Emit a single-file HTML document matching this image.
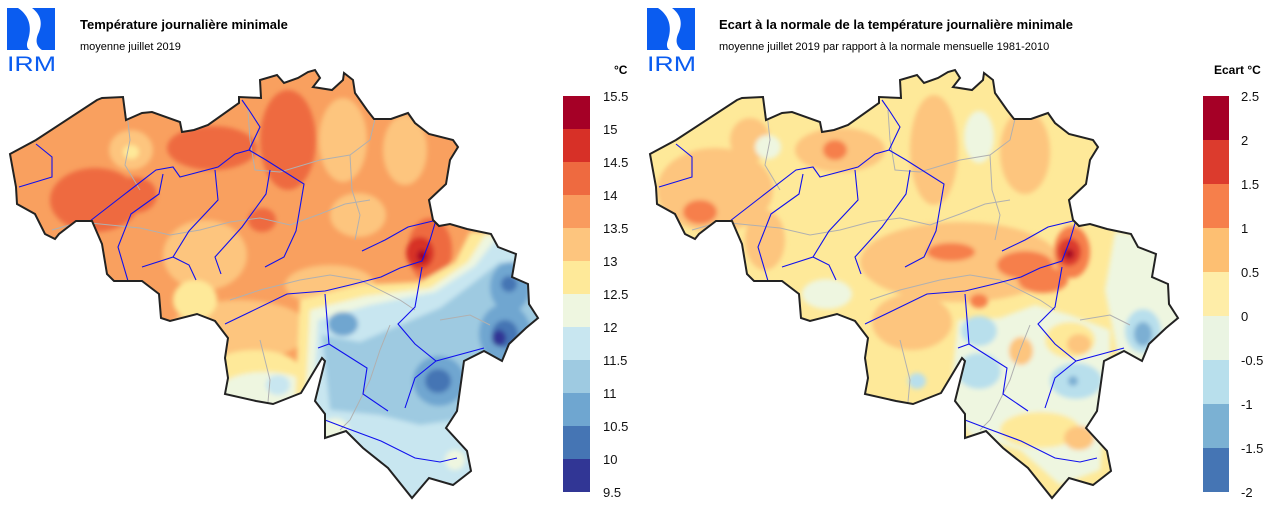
<!DOCTYPE html>
<html><head><meta charset="utf-8"><style>
html,body{margin:0;padding:0;background:#fff;}
svg{display:block;font-family:"Liberation Sans",sans-serif;}
</style></head><body>
<svg width="1280" height="507" viewBox="0 0 1280 507" xmlns="http://www.w3.org/2000/svg">
<defs>
<path id="be" d="M10,154 L36,140 L97,100 L102,98 L123,97 L126,120 L142,113 L152,112 L180,122 L182,132 L194,130 L208,125 L239,103 L239,97 L261,98 L260,80 L277,75 L284,83 L298,78 L308,72 L315,70 L320,78 L313,87 L332,90 L343,80 L344,73 L353,80 L355,93 L367,110 L374,119 L391,119 L408,113 L415,123 L429,134 L453,140 L458,147 L450,160 L446,184 L429,200 L433,220 L439,226 L450,224 L467,229 L491,234 L498,247 L516,254 L512,277 L528,284 L529,304 L538,318 L526,328 L509,344 L502,361 L484,351 L464,361 L457,411 L446,428 L467,451 L471,471 L453,485 L429,478 L412,498 L388,468 L363,448 L346,431 L325,438 L325,414 L315,401 L325,361 L322,358 L304,388 L301,393 L273,404 L256,401 L225,394 L228,378 L225,358 L228,338 L215,321 L197,314 L170,321 L161,318 L159,294 L142,281 L114,281 L107,274 L102,244 L92,221 L76,221 L59,234 L55,239 L45,234 L35,214 L17,204 L16,187 Z"/>
<clipPath id="cp"><use href="#be"/></clipPath>
<filter id="bl" x="-10%" y="-10%" width="120%" height="120%"><feGaussianBlur stdDeviation="2.5"/></filter>
<g id="rivers" fill="none" stroke="#1010ee" stroke-width="1.1">
<polyline points="19,187 52,177 52,157 36,144"/>
<polyline points="90,221 121,197 156,170 173,167 180,177 218,167 235,154 249,150 260,127 249,110 242,100"/>
<polyline points="128,281 118,247 131,214 159,194 163,174"/>
<polyline points="142,267 173,257 189,231 218,200 215,170"/>
<polyline points="173,257 189,265 196,280"/>
<polyline points="221,274 215,257 242,227 266,194 270,170"/>
<polyline points="265,267 284,257 296,231 304,184 266,160 249,150"/>
<polyline points="225,324 250,312 287,294 325,291 350,285 381,277 400,268 422,261 430,240 436,220"/>
<polyline points="362,251 385,240 408,227 433,221"/>
<polyline points="422,267 415,307 398,324 415,344 436,361 484,348"/>
<polyline points="436,361 415,378 405,408"/>
<polyline points="325,294 329,344 367,368 363,394 388,411"/>
<polyline points="329,344 318,348"/>
<polyline points="325,420 346,428 381,441 415,458 440,462 457,458"/>
</g>
<g id="gray" fill="none" stroke="#b0b0b0" stroke-width="1">
<polyline points="52,230 80,222 110,225 140,228 170,235 200,230 230,222 260,218 290,225 320,214 345,204 370,200"/>
<polyline points="125,95 130,140 125,165 140,190"/>
<polyline points="248,110 250,140 255,170 280,172 320,160 350,155 370,140 375,119"/>
<polyline points="350,155 352,190 360,215 355,240"/>
<polyline points="230,300 260,290 300,280 330,275 360,280 400,300 415,310"/>
<polyline points="260,340 270,380 268,402"/>
<polyline points="390,325 380,350 370,380 350,420 340,430"/>
<polyline points="440,320 470,315 490,325"/>
</g>
<g id="logo">
<rect x="7" y="8" width="48" height="42" fill="#0a5cf0"/>
<path d="M18,8 C30,16 32,28 28,40 C26,45 27,49 30,50 L42,50 C36,46 35,40 39,32 C43,22 40,14 32,8 Z" fill="#fff"/>
<text x="7" y="71" font-size="21" fill="#0a5cf0" textLength="49" lengthAdjust="spacingAndGlyphs">IRM</text>
</g>
</defs>

<use href="#logo"/>
<text x="80" y="29" font-size="13" font-weight="bold">Température journalière minimale</text>
<text x="80" y="50" font-size="11">moyenne juillet 2019</text>
<g clip-path="url(#cp)">
<rect x="0" y="60" width="560" height="445" fill="#f9a05f"/>
<g filter="url(#bl)">
<ellipse cx="288" cy="140" rx="28" ry="50" fill="#ee6a40"/>
<ellipse cx="212" cy="148" rx="45" ry="22" fill="#ee6a40"/>
<ellipse cx="95" cy="200" rx="45" ry="32" fill="#ee6a40"/>
<ellipse cx="135" cy="195" rx="22" ry="18" fill="#ee6a40"/>
<ellipse cx="262" cy="220" rx="14" ry="12" fill="#ee6a40"/>
<ellipse cx="430" cy="250" rx="22" ry="32" fill="#ee6a40"/>
<ellipse cx="131" cy="150" rx="22" ry="20" fill="#fdc57e"/>
<ellipse cx="131" cy="152" rx="8" ry="7" fill="#fee999"/>
<ellipse cx="343" cy="140" rx="24" ry="42" fill="#fdc57e"/>
<ellipse cx="405" cy="150" rx="22" ry="35" fill="#fdc57e"/>
<ellipse cx="358" cy="215" rx="28" ry="22" fill="#fdc57e"/>
<ellipse cx="205" cy="255" rx="42" ry="35" fill="#fdc57e"/>
<ellipse cx="240" cy="330" rx="70" ry="30" fill="#fdc57e"/>
<ellipse cx="330" cy="285" rx="45" ry="20" fill="#fdc57e"/>
<ellipse cx="195" cy="300" rx="22" ry="20" fill="#fee999"/>
<ellipse cx="255" cy="370" rx="45" ry="20" fill="#fee999"/>
<ellipse cx="265" cy="390" rx="45" ry="18" fill="#eef6e0"/>
<ellipse cx="278" cy="385" rx="12" ry="10" fill="#c8e6f0"/>
<ellipse cx="420" cy="253" rx="14" ry="16" fill="#d73027"/>
<ellipse cx="422" cy="256" rx="5" ry="6" fill="#a50026"/>
<polygon points="300,300 360,285 420,282 455,262 470,232 545,232 545,505 290,505" fill="#fee999"/>
<polygon points="310,310 365,296 430,288 468,262 485,235 545,238 545,505 300,505" fill="#eef6e0"/>
<polygon points="318,320 370,305 435,292 475,266 495,240 545,245 545,505 330,505 312,420" fill="#c8e6f0"/>
<polygon points="322,335 360,342 400,325 440,308 472,284 500,262 545,272 545,370 490,410 455,420 420,425 380,415 330,410" fill="#9ecae1"/>
<ellipse cx="343" cy="324" rx="15" ry="12" fill="#6fa6d0"/>
<ellipse cx="439" cy="381" rx="26" ry="25" fill="#6fa6d0"/>
<ellipse cx="505" cy="334" rx="26" ry="30" fill="#6fa6d0"/>
<ellipse cx="510" cy="287" rx="20" ry="25" fill="#6fa6d0"/>
<ellipse cx="438" cy="381" rx="13" ry="12" fill="#4575b4"/>
<ellipse cx="505" cy="334" rx="13" ry="14" fill="#4575b4"/>
<ellipse cx="509" cy="284" rx="8" ry="8" fill="#4575b4"/>
<ellipse cx="499" cy="338" rx="7" ry="8" fill="#313695"/>
<ellipse cx="455" cy="460" rx="10" ry="10" fill="#eef6e0"/>
<ellipse cx="335" cy="430" rx="14" ry="12" fill="#eef6e0"/>
</g>
<use href="#gray"/>
<use href="#rivers"/>
</g>
<use href="#be" fill="none" stroke="#222" stroke-width="2"/>

<text x="614" y="74" font-size="12" font-weight="bold">°C</text>
<rect x="563" y="96" width="27" height="33" fill="#a50026"/>
<rect x="563" y="129" width="27" height="33" fill="#d73027"/>
<rect x="563" y="162" width="27" height="33" fill="#ee6a40"/>
<rect x="563" y="195" width="27" height="33" fill="#f99b5e"/>
<rect x="563" y="228" width="27" height="33" fill="#fdc57e"/>
<rect x="563" y="261" width="27" height="33" fill="#fee999"/>
<rect x="563" y="294" width="27" height="33" fill="#eef6e0"/>
<rect x="563" y="327" width="27" height="33" fill="#c8e6f0"/>
<rect x="563" y="360" width="27" height="33" fill="#9ecae1"/>
<rect x="563" y="393" width="27" height="33" fill="#6fa6d0"/>
<rect x="563" y="426" width="27" height="33" fill="#4575b4"/>
<rect x="563" y="459" width="27" height="33" fill="#313695"/>
<g font-size="13" fill="#111">
<text x="603" y="101">15.5</text><text x="603" y="134">15</text><text x="603" y="167">14.5</text>
<text x="603" y="200">14</text><text x="603" y="233">13.5</text><text x="603" y="266">13</text>
<text x="603" y="299">12.5</text><text x="603" y="332">12</text><text x="603" y="365">11.5</text>
<text x="603" y="398">11</text><text x="603" y="431">10.5</text><text x="603" y="464">10</text>
<text x="603" y="497">9.5</text>
</g>

<g transform="translate(640,0)">
<use href="#logo"/>
<text x="79" y="29" font-size="13" font-weight="bold">Ecart à la normale de la température journalière minimale</text>
<text x="79" y="50" font-size="11">moyenne juillet 2019 par rapport à la normale mensuelle 1981-2010</text>
<g clip-path="url(#cp)">
<rect x="0" y="60" width="560" height="445" fill="#fee999"/>
<g filter="url(#bl)">
<ellipse cx="75" cy="190" rx="58" ry="42" fill="#fdc57e"/>
<ellipse cx="110" cy="140" rx="20" ry="22" fill="#fdc57e"/>
<ellipse cx="200" cy="150" rx="45" ry="22" fill="#fdc57e"/>
<ellipse cx="294" cy="150" rx="24" ry="55" fill="#fdc57e"/>
<ellipse cx="385" cy="152" rx="25" ry="42" fill="#fdc57e"/>
<ellipse cx="320" cy="262" rx="100" ry="40" fill="#fdc57e"/>
<ellipse cx="272" cy="322" rx="40" ry="28" fill="#fdc57e"/>
<ellipse cx="125" cy="240" rx="20" ry="30" fill="#fdc57e"/>
<ellipse cx="195" cy="150" rx="12" ry="10" fill="#f67f4b"/>
<ellipse cx="60" cy="212" rx="17" ry="12" fill="#f67f4b"/>
<ellipse cx="311" cy="252" rx="24" ry="9" fill="#f67f4b"/>
<ellipse cx="385" cy="265" rx="28" ry="14" fill="#f67f4b"/>
<ellipse cx="403" cy="280" rx="25" ry="13" fill="#f67f4b"/>
<ellipse cx="339" cy="301" rx="9" ry="7" fill="#f67f4b"/>
<ellipse cx="432" cy="252" rx="18" ry="26" fill="#f67f4b"/>
<ellipse cx="429" cy="252" rx="12" ry="14" fill="#dc3b2d"/>
<ellipse cx="429" cy="254" rx="5" ry="5" fill="#a50026"/>
<ellipse cx="339" cy="137" rx="15" ry="26" fill="#eef6e0"/>
<ellipse cx="128" cy="147" rx="13" ry="12" fill="#eef6e0"/>
<ellipse cx="187" cy="294" rx="25" ry="15" fill="#eef6e0"/>
<polygon points="475,232 545,240 545,380 480,365 465,290" fill="#eef6e0"/>
<polygon points="318,320 360,318 395,305 430,315 470,330 470,360 460,470 420,485 380,450 330,435 310,400" fill="#eef6e0"/>
<ellipse cx="430" cy="340" rx="25" ry="18" fill="#fee999"/>
<ellipse cx="400" cy="430" rx="40" ry="18" fill="#fee999"/>
<ellipse cx="439" cy="344" rx="12" ry="10" fill="#fdc57e"/>
<ellipse cx="381" cy="351" rx="12" ry="14" fill="#fdc57e"/>
<ellipse cx="439" cy="438" rx="15" ry="12" fill="#fdc57e"/>
<ellipse cx="339" cy="331" rx="18" ry="15" fill="#b8dfec"/>
<ellipse cx="339" cy="371" rx="22" ry="18" fill="#b8dfec"/>
<ellipse cx="436" cy="381" rx="26" ry="18" fill="#b8dfec"/>
<ellipse cx="503" cy="331" rx="18" ry="22" fill="#b8dfec"/>
<ellipse cx="277" cy="381" rx="9" ry="8" fill="#b8dfec"/>
<ellipse cx="503" cy="334" rx="9" ry="12" fill="#7bafd3"/>
<ellipse cx="433" cy="381" rx="5" ry="5" fill="#7bafd3"/>
</g>
<use href="#gray"/>
<use href="#rivers"/>
</g>
<use href="#be" fill="none" stroke="#222" stroke-width="2"/>
</g>

<text x="1214" y="74" font-size="12" font-weight="bold">Ecart °C</text>
<rect x="1203" y="96" width="26" height="44" fill="#a50026"/>
<rect x="1203" y="140" width="26" height="44" fill="#dc3b2d"/>
<rect x="1203" y="184" width="26" height="44" fill="#f67f4b"/>
<rect x="1203" y="228" width="26" height="44" fill="#fdbf72"/>
<rect x="1203" y="272" width="26" height="44" fill="#feeda8"/>
<rect x="1203" y="316" width="26" height="44" fill="#eaf4e2"/>
<rect x="1203" y="360" width="26" height="44" fill="#b8dfec"/>
<rect x="1203" y="404" width="26" height="44" fill="#7bb1d3"/>
<rect x="1203" y="448" width="26" height="44" fill="#4575b4"/>
<g font-size="13" fill="#111">
<text x="1241" y="101">2.5</text><text x="1241" y="145">2</text><text x="1241" y="189">1.5</text>
<text x="1241" y="233">1</text><text x="1241" y="277">0.5</text><text x="1241" y="321">0</text>
<text x="1241" y="365">-0.5</text><text x="1241" y="409">-1</text><text x="1241" y="453">-1.5</text>
<text x="1241" y="497">-2</text>
</g>
</svg>
</body></html>
